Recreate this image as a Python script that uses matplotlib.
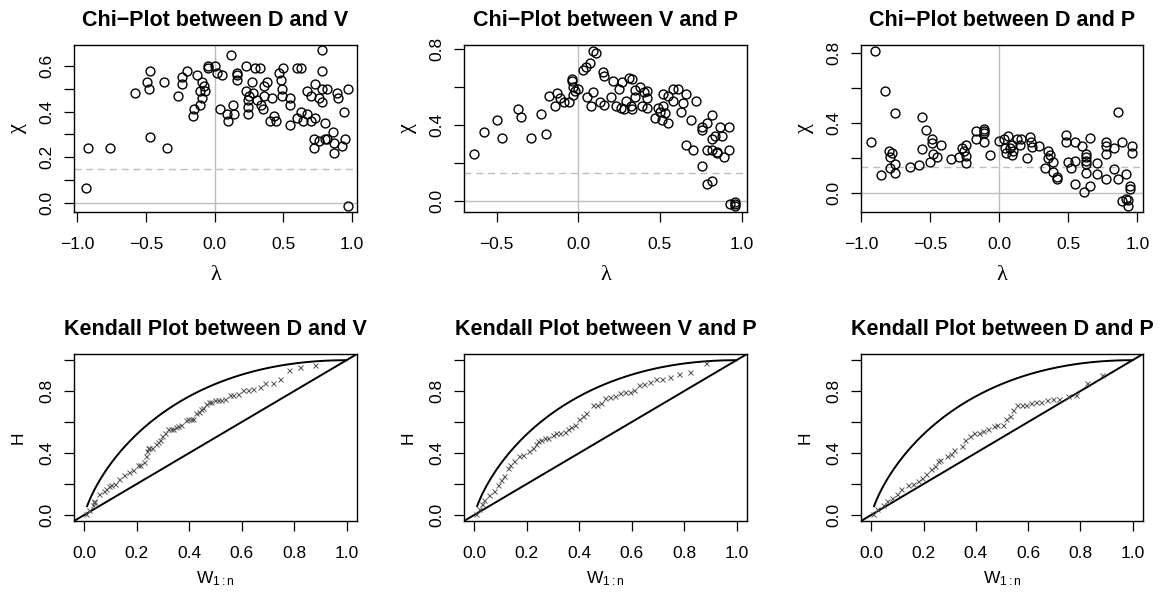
import numpy as np
import matplotlib
matplotlib.use('Agg')
import matplotlib.pyplot as plt

plt.rcParams['font.family'] = ['Liberation Sans', 'DejaVu Sans']
plt.rcParams['mathtext.fontset'] = 'custom'
plt.rcParams['mathtext.rm'] = 'Liberation Sans'
plt.rcParams['mathtext.it'] = 'Liberation Sans:italic'

# Chi-plot D и V
dv_lam = [-0.94, -0.92, -0.76, -0.58, -0.48, -0.49, -0.47, -0.47, -0.37, -0.35,
          -0.27, -0.24, -0.24, -0.20, -0.16, -0.15, -0.13, -0.11, -0.11, -0.09,
          -0.09, -0.08, -0.07, -0.05, -0.05, 0.00, 0.02, 0.05, 0.12, 0.04,
          0.09, 0.10, 0.13, 0.14, 0.16, 0.16, 0.16, 0.23, 0.23, 0.24,
          0.24, 0.24, 0.25, 0.27, 0.28, 0.29, 0.31, 0.33, 0.34, 0.35,
          0.36, 0.36, 0.38, 0.40, 0.42, 0.43, 0.45, 0.47, 0.48, 0.49,
          0.49, 0.50, 0.55, 0.55, 0.55, 0.60, 0.63, 0.60, 0.63, 0.64,
          0.67, 0.67, 0.70, 0.70, 0.72, 0.72, 0.73, 0.73, 0.76, 0.76,
          0.78, 0.78, 0.78, 0.78, 0.80, 0.80, 0.82, 0.82, 0.86, 0.87,
          0.87, 0.89, 0.90, 0.93, 0.94, 0.95, 0.97, 0.97]
dv_chi = [0.063, 0.24, 0.24, 0.48, 0.50, 0.53, 0.58, 0.29, 0.53, 0.24,
          0.47, 0.55, 0.52, 0.58, 0.38, 0.41, 0.56, 0.49, 0.43, 0.53,
          0.46, 0.51, 0.49, 0.59, 0.60, 0.60, 0.57, 0.56, 0.65, 0.41,
          0.39, 0.36, 0.43, 0.39, 0.57, 0.56, 0.54, 0.60, 0.49, 0.45,
          0.42, 0.39, 0.47, 0.53, 0.48, 0.59, 0.45, 0.59, 0.43, 0.41,
          0.47, 0.51, 0.53, 0.36, 0.46, 0.38, 0.36, 0.57, 0.54, 0.50,
          0.47, 0.59, 0.46, 0.43, 0.34, 0.59, 0.59, 0.37, 0.40, 0.36,
          0.39, 0.49, 0.36, 0.47, 0.28, 0.24, 0.52, 0.37, 0.46, 0.27,
          0.58, 0.67, 0.50, 0.44, 0.35, 0.28, 0.50, 0.28, 0.31, 0.26,
          0.22, 0.48, 0.46, 0.25, 0.40, 0.28, 0.50, -0.013]

# Chi-plot V и P
vp_lam = [-0.64, -0.58, -0.50, -0.47, -0.37, -0.35, -0.29, -0.23, -0.20, -0.18,
          -0.14, -0.13, -0.11, -0.09, -0.06, -0.04, -0.04, -0.03, -0.03, -0.02,
          0.00, 0.03, 0.05, 0.07, 0.09, 0.11, 0.055, 0.075, 0.09, 0.13,
          0.15, 0.16, 0.16, 0.20, 0.21, 0.23, 0.25, 0.26, 0.27, 0.28,
          0.29, 0.31, 0.32, 0.33, 0.33, 0.35, 0.35, 0.38, 0.39, 0.40,
          0.42, 0.42, 0.42, 0.47, 0.49, 0.50, 0.51, 0.52, 0.52, 0.53,
          0.55, 0.55, 0.58, 0.58, 0.61, 0.63, 0.64, 0.66, 0.66, 0.69,
          0.70, 0.72, 0.76, 0.76, 0.76, 0.79, 0.79, 0.79, 0.82, 0.82,
          0.82, 0.82, 0.84, 0.85, 0.85, 0.87, 0.88, 0.89, 0.92, 0.92,
          0.93, 0.96, 0.96, 0.96]
vp_chi = [0.244, 0.363, 0.425, 0.33, 0.48, 0.44, 0.33, 0.456, 0.35, 0.55,
          0.50, 0.565, 0.54, 0.52, 0.52, 0.64, 0.63, 0.60, 0.556, 0.577,
          0.59, 0.69, 0.705, 0.726, 0.79, 0.775, 0.544, 0.50, 0.574, 0.518,
          0.675, 0.656, 0.504, 0.547, 0.63, 0.50, 0.59, 0.486, 0.626, 0.48,
          0.525, 0.644, 0.50, 0.64, 0.48, 0.544, 0.58, 0.60, 0.50, 0.574,
          0.486, 0.54, 0.577, 0.433, 0.486, 0.468, 0.425, 0.50, 0.56, 0.46,
          0.407, 0.55, 0.525, 0.59, 0.59, 0.468, 0.512, 0.56, 0.293, 0.425,
          0.267, 0.525, 0.39, 0.372, 0.184, 0.086, 0.267, 0.407, 0.45, 0.323,
          0.105, 0.267, 0.342, 0.254, 0.249, 0.39, 0.342, 0.228, 0.267, 0.39,
          -0.018, -0.005, -0.026, -0.018]

# Chi-plot D и P
dp_lam = [-0.93, -0.90, -0.86, -0.83, -0.80, -0.79, -0.78, -0.79, -0.76, -0.76,
          -0.76, -0.65, -0.58, -0.56, -0.53, -0.56, -0.50, -0.49, -0.49, -0.48,
          -0.45, -0.42, -0.35, -0.29, -0.27, -0.26, -0.24, -0.24, -0.24, -0.17,
          -0.17, -0.11, -0.11, -0.11, -0.11, -0.07, 0.00, 0.03, 0.04, 0.05,
          0.06, 0.08, 0.09, 0.09, 0.10, 0.13, 0.15, 0.16, 0.20, 0.22,
          0.23, 0.24, 0.29, 0.33, 0.35, 0.35, 0.37, 0.39, 0.39, 0.42,
          0.42, 0.48, 0.48, 0.50, 0.52, 0.55, 0.55, 0.55, 0.60, 0.61,
          0.63, 0.63, 0.63, 0.63, 0.63, 0.66, 0.66, 0.71, 0.71, 0.77,
          0.77, 0.77, 0.77, 0.83, 0.83, 0.86, 0.86, 0.89, 0.89, 0.92,
          0.92, 0.93, 0.93, 0.95, 0.95, 0.96, 0.96]
dp_chi = [0.288, 0.81, 0.099, 0.583, 0.24, 0.206, 0.225, 0.139, 0.114, 0.453,
          0.162, 0.149, 0.158, 0.43, 0.358, 0.25, 0.177, 0.305, 0.286, 0.22,
          0.206, 0.27, 0.192, 0.202, 0.257, 0.24, 0.272, 0.21, 0.171, 0.305,
          0.354, 0.352, 0.339, 0.364, 0.291, 0.215, 0.297, 0.307, 0.257, 0.225,
          0.326, 0.257, 0.272, 0.215, 0.238, 0.307, 0.272, 0.307, 0.20, 0.316,
          0.291, 0.263, 0.267, 0.143, 0.24, 0.196, 0.215, 0.173, 0.116, 0.091,
          0.078, 0.33, 0.288, 0.173, 0.139, 0.291, 0.183, 0.05, 0.267, 0.006,
          0.219, 0.202, 0.183, 0.164, 0.114, 0.31, 0.04, 0.171, 0.107, 0.291,
          0.267, 0.221, 0.078, 0.257, 0.135, 0.463, 0.078, 0.288, -0.046, -0.036,
          0.107, -0.074, -0.042, 0.04, 0.021, 0.269, 0.225]

chi_bound = 0.148

# Kendall plot D и V
k_dv_w = [0.004, 0.019, 0.032, 0.036, 0.038, 0.055, 0.074, 0.083, 0.093, 0.102,
          0.115, 0.131, 0.150, 0.169, 0.187, 0.204, 0.210, 0.227, 0.233, 0.238,
          0.242, 0.248, 0.259, 0.274, 0.280, 0.287, 0.297, 0.306, 0.318, 0.329,
          0.338, 0.348, 0.357, 0.367, 0.386, 0.395, 0.405, 0.414, 0.427, 0.437,
          0.446, 0.452, 0.462, 0.474, 0.484, 0.497, 0.510, 0.522, 0.535, 0.554,
          0.567, 0.586, 0.605, 0.624, 0.643, 0.669, 0.690, 0.720, 0.748, 0.781,
          0.822, 0.879]
k_dv_h = [0.004, 0.032, 0.065, 0.080, 0.091, 0.134, 0.152, 0.167, 0.184, 0.190,
          0.201, 0.232, 0.255, 0.275, 0.292, 0.320, 0.325, 0.342, 0.379, 0.411,
          0.433, 0.433, 0.433, 0.455, 0.472, 0.483, 0.509, 0.530, 0.552, 0.558,
          0.558, 0.567, 0.574, 0.580, 0.613, 0.617, 0.621, 0.621, 0.660, 0.667,
          0.682, 0.693, 0.719, 0.732, 0.732, 0.740, 0.742, 0.742, 0.751, 0.775,
          0.775, 0.784, 0.805, 0.805, 0.812, 0.829, 0.855, 0.855, 0.881, 0.937,
          0.957, 0.970]

# Kendall plot V и P
k_vp_w = [0.006, 0.019, 0.029, 0.038, 0.057, 0.076, 0.089, 0.102, 0.112, 0.127,
          0.134, 0.150, 0.168, 0.185, 0.208, 0.223, 0.233, 0.242, 0.255, 0.268,
          0.280, 0.299, 0.312, 0.325, 0.344, 0.357, 0.369, 0.382, 0.399, 0.414,
          0.427, 0.452, 0.468, 0.484, 0.497, 0.516, 0.535, 0.557, 0.573, 0.592,
          0.608, 0.628, 0.647, 0.669, 0.694, 0.717, 0.745, 0.781, 0.824, 0.882]
k_vp_h = [0.004, 0.037, 0.069, 0.097, 0.130, 0.152, 0.195, 0.227, 0.249, 0.303,
          0.320, 0.351, 0.379, 0.385, 0.411, 0.433, 0.455, 0.476, 0.487, 0.494,
          0.494, 0.519, 0.530, 0.530, 0.535, 0.552, 0.567, 0.584, 0.617, 0.639,
          0.660, 0.708, 0.708, 0.725, 0.753, 0.762, 0.768, 0.790, 0.794, 0.794,
          0.807, 0.838, 0.844, 0.859, 0.877, 0.877, 0.894, 0.909, 0.926, 0.981]

# Kendall plot D и P
k_dp_w = [0.006, 0.022, 0.043, 0.060, 0.079, 0.098, 0.113, 0.140, 0.159, 0.177,
          0.194, 0.210, 0.228, 0.242, 0.255, 0.264, 0.289, 0.306, 0.317, 0.346,
          0.359, 0.378, 0.391, 0.410, 0.429, 0.448, 0.468, 0.480, 0.502, 0.515,
          0.529, 0.541, 0.557, 0.576, 0.591, 0.610, 0.629, 0.650, 0.671, 0.694,
          0.720, 0.752, 0.783, 0.824, 0.882]
k_dp_h = [0.004, 0.037, 0.065, 0.087, 0.108, 0.134, 0.169, 0.195, 0.201, 0.221,
          0.238, 0.264, 0.297, 0.314, 0.351, 0.357, 0.379, 0.394, 0.422, 0.444,
          0.487, 0.509, 0.530, 0.530, 0.545, 0.552, 0.574, 0.578, 0.578, 0.621,
          0.639, 0.677, 0.708, 0.710, 0.710, 0.725, 0.729, 0.729, 0.742, 0.751,
          0.751, 0.768, 0.775, 0.855, 0.903]

fig = plt.figure(figsize=(11.64, 5.95), dpi=100)


def make_axes(x0, y0, x1, y1):
    # координаты в пикселях
    return fig.add_axes([x0 / 1164, 1 - y1 / 595, (x1 - x0) / 1164, (y1 - y0) / 595])


def num(v):
    return ('%.1f' % v).replace('-', '\u2212')


def style(ax, xticks, yticks, ylabels, xlim, ylim, title, xlabel, ylabel, greek):
    ax.set_xlim(xlim)
    ax.set_ylim(ylim)
    for sp in ax.spines.values():
        sp.set_linewidth(1.0)
    ax.set_xticks(xticks)
    ax.set_xticklabels([num(t) for t in xticks])
    ax.set_yticks(yticks)
    ax.set_yticklabels(ylabels, rotation=90, va='center')
    ax.tick_params(direction='out', length=7, width=0.9, labelsize=12.5)
    ax.tick_params(axis='x', pad=11)
    ax.tick_params(axis='y', pad=7)
    ax.set_title(title, fontsize=15.5, fontweight='bold', pad=13.5)
    if greek:
        ax.set_xlabel(xlabel, fontsize=16, family='Liberation Serif', labelpad=10)
        ax.set_ylabel(ylabel, fontsize=16, family='Liberation Serif', labelpad=9)
    else:
        ax.set_xlabel(xlabel, fontsize=12.5, labelpad=6)
        ax.set_ylabel(ylabel, fontsize=12.5, labelpad=10)


def fmt(vals, shown):
    return [num(v) if round(v, 1) in shown else '' for v in vals]


cols = [(74, 357), (464, 747), (861, 1143)]

chi_data = [(dv_lam, dv_chi, 'D and V'), (vp_lam, vp_chi, 'V and P'), (dp_lam, dp_chi, 'D and P')]
chi_xlims = [(-1.024, 1.036), (-0.70, 1.033), (-1.003, 1.041)]
chi_ylims = [(-0.041, 0.692), (-0.059, 0.819), (-0.110, 0.844)]
chi_xticks = [[-1.0, -0.5, 0.0, 0.5, 1.0], [-0.5, 0.0, 0.5, 1.0], [-1.0, -0.5, 0.0, 0.5, 1.0]]
chi_yticks = [np.arange(0, 0.61, 0.1), np.arange(0, 0.81, 0.2), np.arange(0, 0.81, 0.2)]
chi_yshown = [[0.0, 0.2, 0.4, 0.6], [0.0, 0.4, 0.8], [0.0, 0.4, 0.8]]

for i in range(3):
    lam, chi, name = chi_data[i]
    ax = make_axes(cols[i][0], 45, cols[i][1], 212)
    ax.axhline(0, color='#bebebe', lw=1.0, zorder=1)
    ax.axvline(0, color='#bebebe', lw=1.0, zorder=1)
    ax.axhline(chi_bound, color='#bebebe', lw=1.0, ls=(0, (5, 3.5)), zorder=1)
    ax.plot(lam, chi, ls='', marker='o', ms=6.4, mfc='none', mec='black', mew=1.0, zorder=3)
    style(ax, chi_xticks[i], chi_yticks[i], fmt(chi_yticks[i], chi_yshown[i]),
          chi_xlims[i], chi_ylims[i], 'Chi\u2212Plot between ' + name, '\u03bb', '\u03c7', True)

k_data = [(k_dv_w, k_dv_h, 'D and V'), (k_vp_w, k_vp_h, 'V and P'), (k_dp_w, k_dp_h, 'D and P')]
k_ticks = np.arange(0, 1.01, 0.2)

# кривая независимости K0(w) = w - w*log(w)
w = np.linspace(0.01, 1, 300)
k0 = w - w * np.log(w)

for i in range(3):
    kw, kh, name = k_data[i]
    ax = make_axes(cols[i][0], 354, cols[i][1], 521)
    ax.plot(w, k0, color='black', lw=1.4, zorder=2)
    ax.axline((0, 0), (1, 1), color='black', lw=1.4, zorder=2)
    ax.plot(kw, kh, ls='', marker='x', ms=3.6, mec='#555555', mew=0.7, zorder=3)
    style(ax, k_ticks, k_ticks, fmt(k_ticks, [0.0, 0.4, 0.8]), (-0.04, 1.04), (-0.04, 1.04),
          'Kendall Plot between ' + name, r'W$_{\mathrm{1{:}n}}$', 'H', False)

fig.savefig('out.png', dpi=100)
